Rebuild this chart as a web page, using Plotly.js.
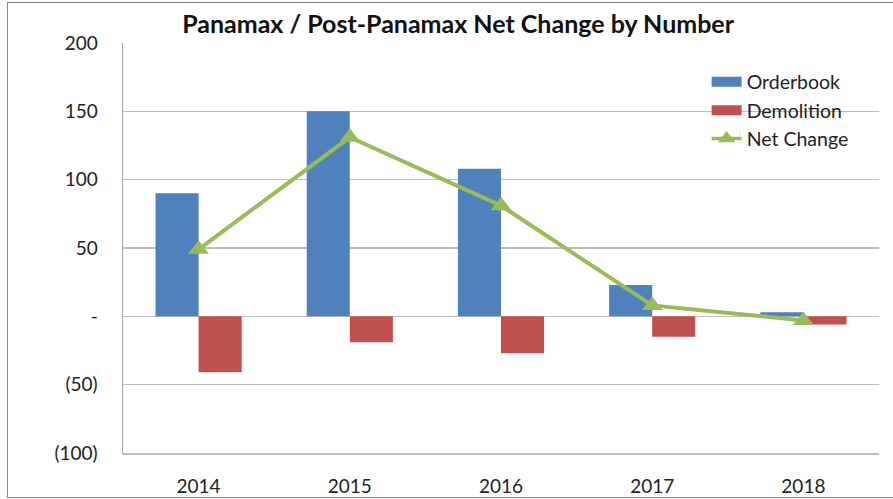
<!DOCTYPE html>
<html>
<head>
<meta charset="utf-8">
<script src="https://cdn.plot.ly/plotly-3.0.1.min.js"></script>
<style>
html,body{margin:0;padding:0;background:#fff;}
#wrap{position:relative;width:893px;height:499px;overflow:hidden;}
#chart{width:893px;height:499px;}
#frame{position:absolute;left:7px;top:2px;width:1000px;height:494px;border:1.5px solid #8a8a8a;pointer-events:none;}
</style>
</head>
<body>
<div id="wrap"><div id="chart"></div><div id="frame"></div></div>
<script>
const years = ['2014', '2015', '2016', '2017', '2018'];
const orderbook = [90, 150, 108, 23, 3];
const demolition = [-41, -19, -27, -15, -6];
const netChange = [49, 131, 81, 8, -3];
const yTickVals = [200, 150, 100, 50, 0, -50, -100];
const yTickText = ['200', '150', '100', '50', '-', '(50)', '(100)'];

const BLUE = '#4F81BD', RED = '#C0504D', GREEN = '#9BBB59';
const FONT = 'Lato, "Open Sans", sans-serif';

const traces = [
  {type: 'bar', name: 'Orderbook', x: years, y: orderbook, marker: {color: BLUE}, showlegend: false},
  {type: 'bar', name: 'Demolition', x: years, y: demolition, marker: {color: RED}, showlegend: false},
  {type: 'scatter', mode: 'lines+markers', name: 'Net Change', x: years, y: netChange,
   line: {color: GREEN, width: 4}, marker: {symbol: 'triangle-up', size: 18, color: GREEN},
   showlegend: false},
  // legend entries
  {type: 'scatter', mode: 'lines', name: 'Orderbook', x: [null], y: [null], line: {color: BLUE, width: 11}},
  {type: 'scatter', mode: 'lines', name: 'Demolition', x: [null], y: [null], line: {color: RED, width: 11}},
  {type: 'scatter', mode: 'lines+markers', name: 'Net Change', x: [null], y: [null],
   line: {color: GREEN, width: 3.5}, marker: {symbol: 'triangle-up', size: 15, color: GREEN}}
];

const layout = {
  width: 893, height: 499,
  margin: {l: 123, r: 14, t: 43, b: 46},
  paper_bgcolor: '#fff', plot_bgcolor: '#fff',
  font: {family: FONT, size: 19, color: '#222'},
  title: {text: '<b>Panamax / Post-Panamax Net Change by Number</b>', x: 0.513, xanchor: 'center', y: 0.952, yanchor: 'middle',
          font: {family: FONT, size: 25, color: '#111'}},
  barmode: 'group', bargap: 0.43, bargroupgap: 0,
  showlegend: true,
  legend: {x: 0.772, y: 0.952, xanchor: 'left', yanchor: 'top', bgcolor: 'rgba(0,0,0,0)',
           font: {family: FONT, size: 19.5, color: '#222'}, tracegroupgap: 0, itemwidth: 30},
  xaxis: {type: 'category', showgrid: false, zeroline: false,
          showline: true, linecolor: '#BDBDBD', linewidth: 1.5,
          ticks: 'outside', ticklen: 16, tickcolor: 'rgba(0,0,0,0)',
          tickfont: {family: FONT, size: 19, color: '#222'}, fixedrange: true},
  yaxis: {range: [-100, 200], tickvals: yTickVals, ticktext: yTickText,
          showgrid: true, gridcolor: '#BDBDBD', gridwidth: 1.5,
          zeroline: true, zerolinecolor: '#BDBDBD', zerolinewidth: 1.5,
          showline: true, linecolor: '#A6A6A6', linewidth: 1.5,
          ticks: 'outside', ticklen: 20, tickcolor: 'rgba(0,0,0,0)',
          tickfont: {family: FONT, size: 19, color: '#222'}, fixedrange: true}
};

Plotly.newPlot('chart', traces, layout, {displayModeBar: false, staticPlot: true});
</script>
</body>
</html>
